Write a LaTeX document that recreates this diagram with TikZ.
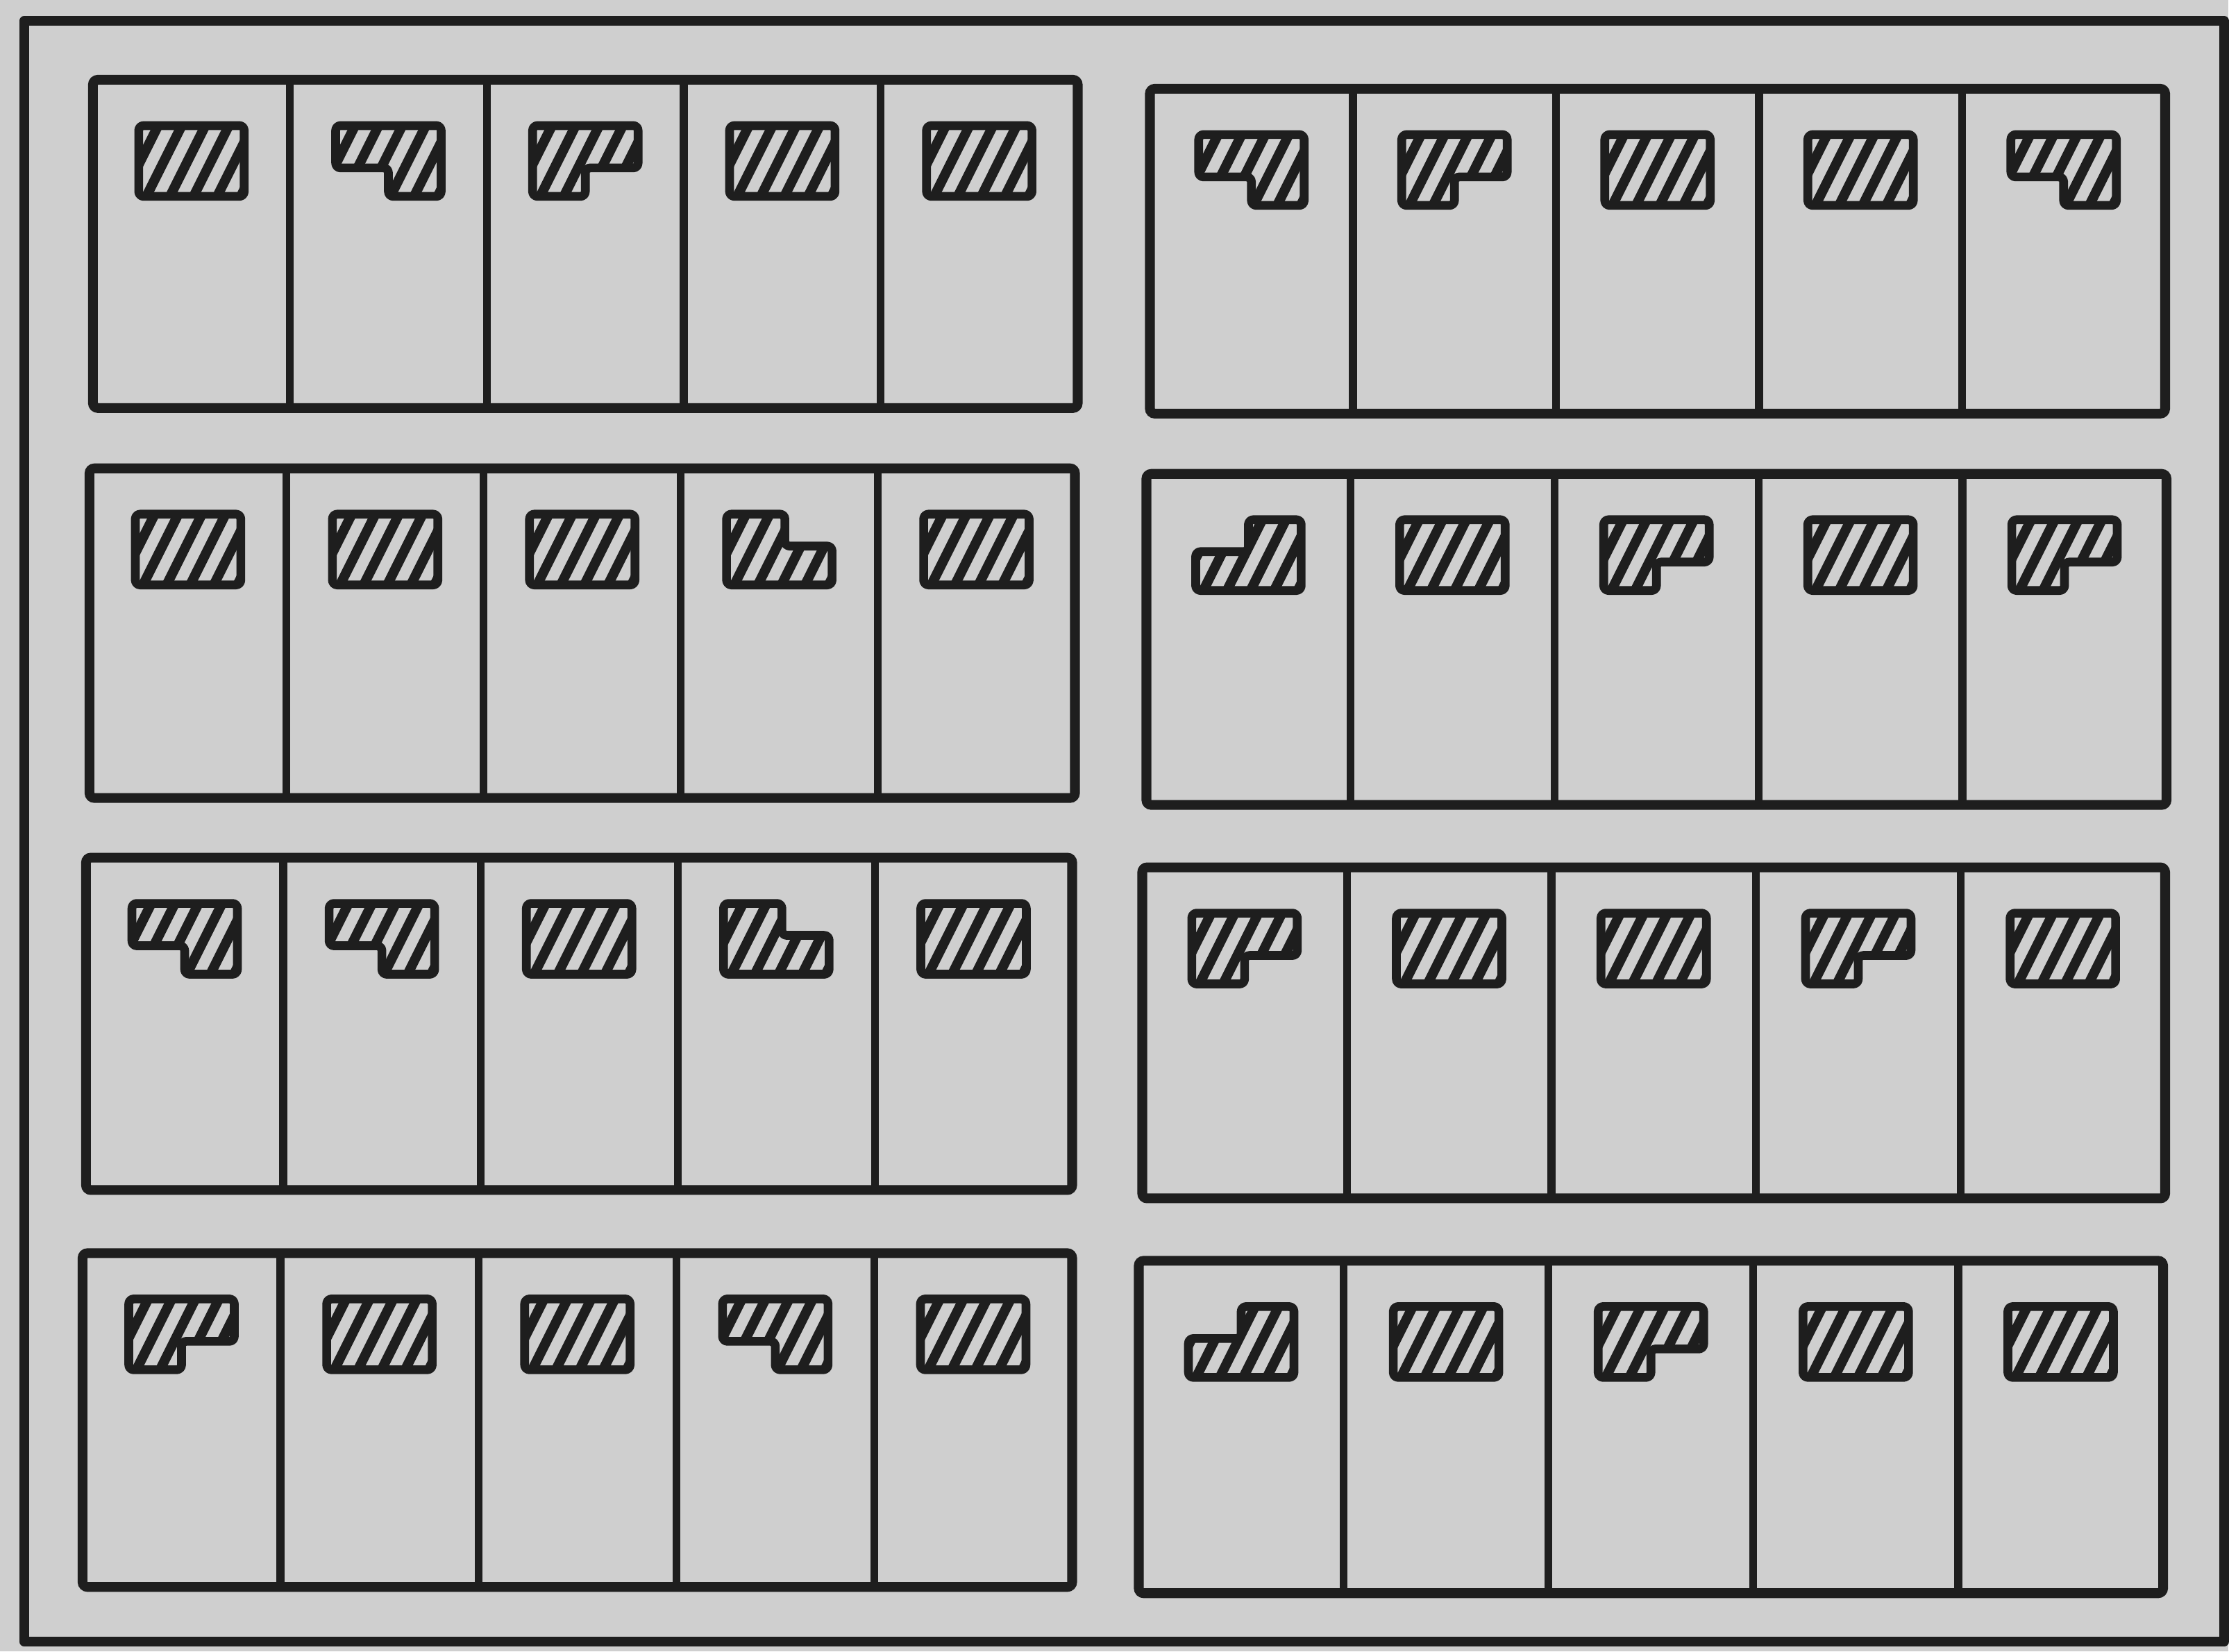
\documentclass[tikz,border=0pt]{standalone}
\usetikzlibrary{calc}
\definecolor{paper}{HTML}{CFCFCF}
\definecolor{ink}{HTML}{1E1E1E}

\tikzset{
  frame/.style={draw=ink, line width=4pt, line join=round},
  panel/.style={draw=ink, line width=4pt, rounded corners=2pt},
  divider/.style={draw=ink, line width=3.2pt},
  boxline/.style={draw=ink, line width=3.6pt, rounded corners=2pt, line join=round},
  hatch/.style={draw=ink, line width=4pt},
}

% outlines of the hatched marks, top-left corner at (0,0)
\newcommand{\shapeR}{(0,0) rectangle (1.52,-1.02)}
\newcommand{\shapeA}{(0,0) -- (1.52,0) -- (1.52,-1.02) -- (0.76,-1.02) -- (0.76,-0.61) -- (0,-0.61) -- cycle}
\newcommand{\shapeB}{(0,0) -- (1.52,0) -- (1.52,-0.61) -- (0.76,-0.61) -- (0.76,-1.02) -- (0,-1.02) -- cycle}
\newcommand{\shapeC}{(0.76,0) -- (1.52,0) -- (1.52,-1.02) -- (0,-1.02) -- (0,-0.46) -- (0.76,-0.46) -- cycle}
\newcommand{\shapeD}{(0,0) -- (0.84,0) -- (0.84,-0.46) -- (1.52,-0.46) -- (1.52,-1.02) -- (0,-1.02) -- cycle}

% one hatched mark: x, y of its top-left corner, kind (R, A, B, C, D)
\newcommand{\hatchbox}[3]{%
  \expandafter\let\expandafter\curmark\csname shape#3\endcsname
  \begin{scope}[shift={(#1,#2)}]
    \begin{scope}
      \clip \curmark;
      \foreach \s in {-0.62,-0.28,...,1.6}
        \draw[hatch] (\s,-1.12) -- ++(0.62,1.24);
    \end{scope}
    \draw[boxline] \curmark;
  \end{scope}}

% panel of five cells: left, top, right, bottom
\newcommand{\cabinet}[4]{%
  \draw[panel] (#1,#2) rectangle (#3,#4);
  \foreach \k in {1,...,4}
    \draw[divider] ($(#1,#2)!\k/5!(#3,#2)$) -- ($(#1,#4)!\k/5!(#3,#4)$);
}

% marks along the top of a panel: left, top, right, list of kinds
\newcommand{\shaperow}[4]{%
  \foreach \kind [count=\k] in {#4} {
    \pgfmathsetmacro{\sx}{#1+(\k-0.5)*(#3-#1)/5-0.76}
    \hatchbox{\sx}{#2-0.66}{\kind}
  }}

\begin{document}
\begin{tikzpicture}

% Background
\fill[paper] (0,0) rectangle (32.11,23.80);
\draw[frame] (0.35,23.50) rectangle (32.05,0.14);

%% ROW 1
\cabinet{1.34}{22.65}{15.53}{17.92}
\shaperow{1.34}{22.65}{15.53}{R,A,B,R,R}
\cabinet{16.57}{22.52}{31.20}{17.84}
\shaperow{16.57}{22.52}{31.20}{A,B,R,R,A}

%% ROW 2
\cabinet{1.29}{17.05}{15.49}{12.30}
\shaperow{1.29}{17.05}{15.49}{R,R,R,D,R}
\cabinet{16.52}{16.97}{31.22}{12.20}
\shaperow{16.52}{16.97}{31.22}{C,R,B,R,B}

%% ROW 3
\cabinet{1.24}{11.44}{15.45}{6.65}
\shaperow{1.24}{11.44}{15.45}{A,A,R,D,R}
\cabinet{16.46}{11.30}{31.20}{6.53}
\shaperow{16.46}{11.30}{31.20}{B,R,R,B,R}

%% ROW 4
\cabinet{1.19}{5.74}{15.45}{0.93}
\shaperow{1.19}{5.74}{15.45}{B,R,R,A,R}
\cabinet{16.41}{5.63}{31.17}{0.84}
\shaperow{16.41}{5.63}{31.17}{C,R,B,R,R}

\end{tikzpicture}
\end{document}
